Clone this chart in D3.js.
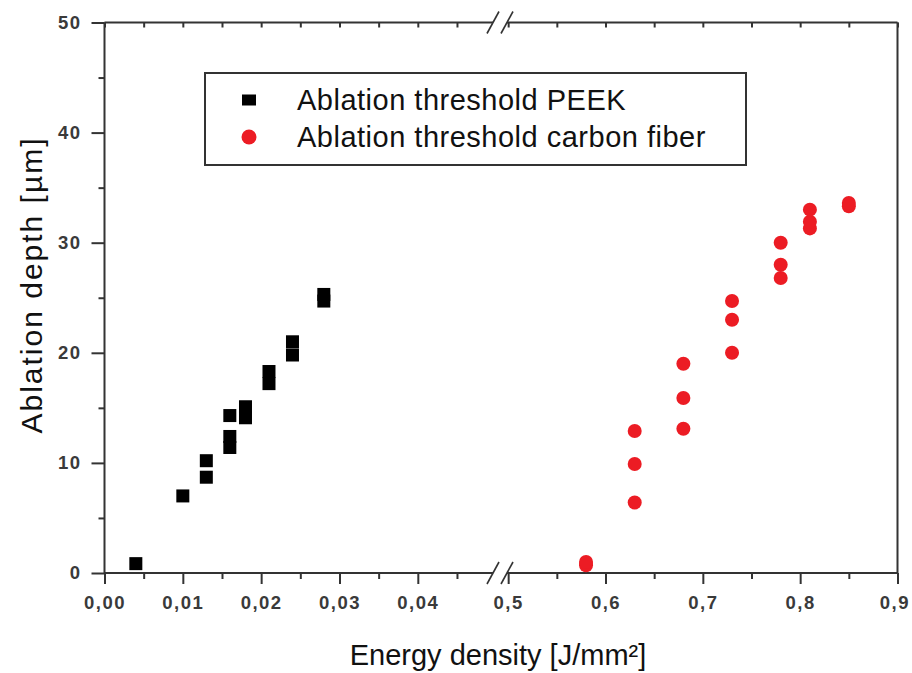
<!DOCTYPE html>
<style>
body { margin: 0; background: #fff; }
text { font-family: "Liberation Sans", Arial, sans-serif; }
.tick line { stroke: #333; stroke-width: 2; }
.tick text { font-size: 18.5px; font-weight: bold; fill: #3a3a3a; letter-spacing: 1.5px; }
.domain { display: none; }
</style>
<svg width="912" height="673"></svg>
<script src="https://d3js.org/d3.v7.min.js"></script>
<script>

var peekX = [0.004, 0.010, 0.013, 0.013, 0.016, 0.016, 0.016, 0.018, 0.018, 0.021, 0.021, 0.024, 0.024, 0.028, 0.028];
var peekY = [0.85, 7.0, 8.7, 10.2, 11.4, 12.4, 14.3, 14.1, 15.1, 17.2, 18.3, 19.8, 21.0, 24.7, 25.3];
var fiberX = [0.58, 0.58, 0.63, 0.63, 0.63, 0.68, 0.68, 0.68, 0.73, 0.73, 0.73, 0.78, 0.78, 0.78, 0.81, 0.81, 0.81, 0.85, 0.85];
var fiberY = [0.7, 1.0, 6.4, 9.9, 12.9, 13.1, 15.9, 19.0, 20.0, 23.0, 24.7, 26.8, 28.0, 30.0, 31.3, 31.9, 33.0, 33.3, 33.6];
var xMajorLeft = [0, 0.01, 0.02, 0.03, 0.04];
var xMajorRight = [0.5, 0.6, 0.7, 0.8, 0.9];
var xMinor = [0.005, 0.015, 0.025, 0.035, 0.045, 0.55, 0.65, 0.75, 0.85];
var yMajor = [0, 10, 20, 30, 40, 50];
var yMinor = [5, 15, 25, 35, 45];
var legendLabels = ["Ablation threshold PEEK", "Ablation threshold carbon fiber"];

var svg = d3.select("svg"),
    red = "#ec1c24",
    axisColor = "#333";

// broken x axis: two linear pieces joined across the gap
var x = d3.scaleLinear()
    .domain([0, 0.0496, 0.4988, 0.9])
    .range([104.5, 493, 507, 897.5]);

var y = d3.scaleLinear()
    .domain([0, 50])
    .range([573, 22.5]);

var yTop = y(50), yBot = y(0), xLeft = x(0), xRight = x(0.9);

function fmt(d) {
  return (d < 0.1 ? d3.format(".2f")(d) : d3.format(".1f")(d)).replace(".", ",");
}

// bottom axis
var xAxis = svg.append("g")
    .attr("transform", "translate(0," + yBot + ")")
    .call(d3.axisBottom(x).tickValues(xMajorLeft.concat(xMajorRight)).tickSize(11).tickPadding(12).tickFormat(fmt));
// keep the last label inside the page
xAxis.selectAll(".tick text")
    .filter(function(d) { return d === 0.9; })
    .attr("text-anchor", "end")
    .attr("x", 12);
svg.append("g")
    .attr("transform", "translate(0," + yBot + ")")
    .call(d3.axisBottom(x).tickValues(xMinor).tickSize(6).tickFormat(""));

// top axis, ticks inward
svg.append("g")
    .attr("transform", "translate(0," + yTop + ")")
    .call(d3.axisBottom(x).tickValues(xMajorLeft.concat(xMajorRight).concat(xMinor)).tickSize(5).tickFormat(""));

// left axis
svg.append("g")
    .attr("transform", "translate(" + xLeft + ",0)")
    .call(d3.axisLeft(y).tickValues(yMajor).tickSize(13).tickPadding(10).tickFormat(d3.format("d")));
svg.append("g")
    .attr("transform", "translate(" + xLeft + ",0)")
    .call(d3.axisLeft(y).tickValues(yMinor).tickSize(6).tickFormat(""));

// frame with gaps at the break
var frame = svg.append("g")
    .attr("stroke", axisColor)
    .attr("stroke-width", 2)
    .attr("fill", "none");

[yBot, yTop].forEach(function(yy) {
  frame.append("line").attr("x1", xLeft).attr("x2", x(0.0496)).attr("y1", yy).attr("y2", yy);
  frame.append("line").attr("x1", x(0.4988)).attr("x2", xRight).attr("y1", yy).attr("y2", yy);
  [x(0.0496), x(0.4988)].forEach(function(xx) {
    frame.append("line")
        .attr("x1", xx - 6).attr("y1", yy + 11)
        .attr("x2", xx + 6).attr("y2", yy - 11)
        .attr("stroke-width", 1.6);
  });
});
frame.append("line").attr("x1", xLeft).attr("x2", xLeft).attr("y1", yTop).attr("y2", yBot);
frame.append("line").attr("x1", xRight).attr("x2", xRight).attr("y1", yTop).attr("y2", yBot);

// data
svg.append("g")
  .selectAll("rect")
  .data(d3.range(peekX.length))
  .enter().append("rect")
    .attr("x", function(i) { return x(peekX[i]) - 6.5; })
    .attr("y", function(i) { return y(peekY[i]) - 6.5; })
    .attr("width", 13)
    .attr("height", 13)
    .attr("fill", "#000");

svg.append("g")
  .selectAll("circle")
  .data(d3.range(fiberX.length))
  .enter().append("circle")
    .attr("cx", function(i) { return x(fiberX[i]); })
    .attr("cy", function(i) { return y(fiberY[i]); })
    .attr("r", 7)
    .attr("fill", red);

// legend
var legend = svg.append("g");
legend.append("rect")
    .attr("x", 205).attr("y", 73)
    .attr("width", 541).attr("height", 92)
    .attr("fill", "#fff")
    .attr("stroke", axisColor)
    .attr("stroke-width", 2);

var rows = legend.selectAll("g.row")
    .data(legendLabels)
    .enter().append("g")
      .attr("class", "row")
      .attr("transform", function(d, i) { return "translate(0," + (100 + i * 37) + ")"; });

rows.filter(function(d, i) { return i === 0; })
  .append("rect")
    .attr("x", 242).attr("y", -5.5)
    .attr("width", 14).attr("height", 11)
    .attr("fill", "#000");
rows.filter(function(d, i) { return i === 1; })
  .append("circle")
    .attr("cx", 249).attr("cy", 0)
    .attr("r", 7.5)
    .attr("fill", red);

rows.append("text")
    .attr("x", 297)
    .attr("y", 10)
    .attr("font-size", 29)
    .attr("letter-spacing", 0.5)
    .attr("fill", "#111")
    .text(function(d) { return d; });

// axis titles
svg.append("text")
    .attr("x", 498)
    .attr("y", 665)
    .attr("text-anchor", "middle")
    .attr("font-size", 29)
    .attr("fill", "#111")
    .text("Energy density [J/mm²]");

svg.append("text")
    .attr("transform", "translate(42,285) rotate(-90)")
    .attr("text-anchor", "middle")
    .attr("font-size", 30)
    .attr("letter-spacing", 2)
    .attr("fill", "#111")
    .text("Ablation depth [µm]");

</script>
